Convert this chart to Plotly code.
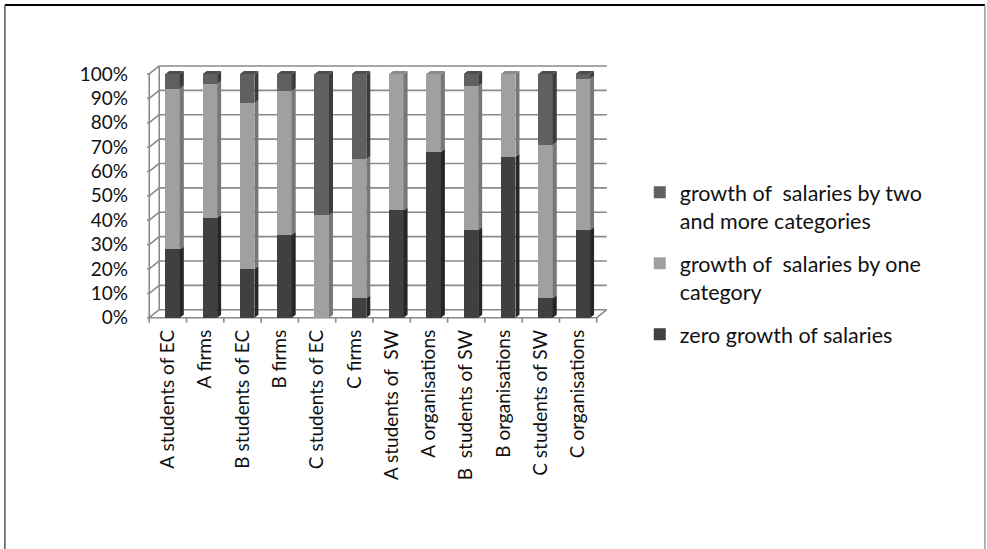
import plotly.graph_objects as go

# ---- data -------------------------------------------------------------
categories = [
    "A students of EC", "A firms", "B students of EC", "B firms",
    "C students of EC", "C firms", "A students of\u00a0 SW", "A organisations",
    "B\u00a0 students of SW", "B organisations", "C students of SW",
    "C organisations",
]
zero_growth = [28, 41, 20, 34, 0, 8, 44, 68, 36, 66, 8, 36]
growth_one = [66, 55, 68, 59, 42, 57, 56, 32, 59, 34, 63, 62]
growth_two = [6, 4, 12, 7, 58, 35, 0, 0, 5, 0, 29, 2]

# name, values, front colour, side colour, top colour, legend rank
series = [
    ("zero growth of salaries", zero_growth, "#404040", "#262626", "#333333", 3),
    ("growth of\u00a0 salaries by one<br>category", growth_one, "#a0a0a0", "#777777", "#8a8a8a", 2),
    ("growth of\u00a0 salaries by two<br>and more categories", growth_two, "#606060", "#3c3c3c", "#4e4e4e", 1),
]
y_ticks = list(range(0, 101, 10))

# ---- geometry (axis units) --------------------------------------------
CAT_PX = 37.33          # pixels per category
Y_PX = 2.44             # pixels per percent
DX = 10 / CAT_PX        # depth of the chart walls
DY = 8 / Y_PX
BAR_W = 0.39
BAR_OFF = -0.07
SDX = 4 / CAT_PX        # depth of each column
SDY = 3 / Y_PX
N = len(categories)

XMIN, XMAX = -0.56, N - 0.5 + DX + 0.06
YMIN, YMAX = -3.0, 104.5
FRONT_LEFT_PX, FLOOR_PX = 149.0, 318.0
L = FRONT_LEFT_PX + (XMIN + 0.5) * CAT_PX
W = (XMAX - XMIN) * CAT_PX
T = FLOOR_PX - YMAX * Y_PX
H = (YMAX - YMIN) * Y_PX
R = 987 - L - W
B = 549 - T - H

fig = go.Figure()

# front faces of the stacked columns
for name, vals, col, _, _, rank in series:
    fig.add_trace(go.Bar(
        x=list(range(N)), y=vals, name=name, width=BAR_W, offset=BAR_OFF,
        marker=dict(color=col, line=dict(width=0)),
        legendgroup=name, legendrank=rank, hoverinfo="skip",
    ))

# right-hand side faces and top faces of the columns
base = [0] * N
tops = {}
for name, vals, col, side, topc, _ in series:
    xs, ys = [], []
    for i, v in enumerate(vals):
        if v <= 0:
            continue
        x1 = i + BAR_OFF + BAR_W
        b0, b1 = base[i], base[i] + v
        xs += [x1, x1 + SDX, x1 + SDX, x1, x1, None]
        ys += [b0, b0 + SDY, b1 + SDY, b1, b0, None]
        tops[i] = topc
    fig.add_trace(go.Scatter(
        x=xs, y=ys, mode="lines", fill="toself", fillcolor=side,
        line=dict(width=0, color=side), showlegend=False, hoverinfo="skip",
    ))
    base = [b + v for b, v in zip(base, vals)]

for topc in sorted(set(tops.values())):
    xs, ys = [], []
    for i, c in tops.items():
        if c != topc:
            continue
        x0 = i + BAR_OFF
        x1 = x0 + BAR_W
        h = base[i]
        xs += [x0, x0 + SDX, x1 + SDX, x1, x0, None]
        ys += [h, h + SDY, h + SDY, h, h, None]
    fig.add_trace(go.Scatter(
        x=xs, y=ys, mode="lines", fill="toself", fillcolor=topc,
        line=dict(width=0, color=topc), showlegend=False, hoverinfo="skip",
    ))

# ---- walls, floor and tick marks ----------------------------------------
GRID = "#8a8a8a"
shapes = []


def seg(x0, y0, x1, y1, color=GRID, width=1.6):
    shapes.append(dict(type="line", xref="x", yref="y", x0=x0, y0=y0,
                       x1=x1, y1=y1, layer="below",
                       line=dict(color=color, width=width)))


left, right = -0.5, N - 0.5
for v in y_ticks:
    seg(left + DX, v + DY, right + DX, v + DY)          # back wall grid
    seg(left, v, left + DX, v + DY)                      # side wall grid
    seg(left - 6 / CAT_PX, v, left, v)                   # value tick
seg(left, 0, left, 100)
seg(left + DX, DY, left + DX, 100 + DY)
seg(left, 0, right, 0)
seg(right, 0, right + DX, DY)
for k in range(N + 1):
    seg(left + k, 0, left + k, -5 / Y_PX)               # category tick


# outer frame of the picture
def px_x(p):
    return (p - L) / W


def px_y(p):
    return (549 - B - p) / H


frame = [((4.5, 5), (985.5, 5), "#000000", 2),
         ((4.5, 5), (4.5, 560), "#555555", 1.5),
         ((985.5, 5), (985.5, 560), "#9a9a9a", 1.5)]
for (a, b), (c, d), col, wd in frame:
    shapes.append(dict(type="line", xref="paper", yref="paper",
                       x0=px_x(a), y0=px_y(b), x1=px_x(c), y1=px_y(d),
                       line=dict(color=col, width=wd)))

FONT = "Lato, Carlito, Calibri, sans-serif"
fig.update_layout(
    width=987, height=549,
    margin=dict(l=L, r=R, t=T, b=B, pad=0, autoexpand=False),
    paper_bgcolor="white", plot_bgcolor="rgba(0,0,0,0)",
    barmode="stack", bargap=0,
    font=dict(family=FONT, size=19, color="#111111"),
    shapes=shapes,
    showlegend=True,
    legend=dict(
        traceorder="grouped", tracegroupgap=12, valign="top",
        x=px_x(640), y=px_y(172), xanchor="left", yanchor="top",
        font=dict(family=FONT, size=21.5, color="#111111"),
        bgcolor="rgba(0,0,0,0)",
    ),
    xaxis=dict(
        range=[XMIN, XMAX], tickvals=list(range(N)), ticktext=categories,
        tickangle=-90, ticks="", showgrid=False, zeroline=False,
        showline=False, automargin=False,
        tickfont=dict(family=FONT, size=19, color="#111111"),
    ),
    yaxis=dict(
        range=[YMIN, YMAX], tickvals=y_ticks,
        ticktext=[f"{v}%" for v in y_ticks], ticks="",
        showgrid=False, zeroline=False, showline=False, automargin=False,
        ticklabelstandoff=18,
        tickfont=dict(family=FONT, size=19, color="#111111"),
    ),
)

fig.write_html("out.html")
